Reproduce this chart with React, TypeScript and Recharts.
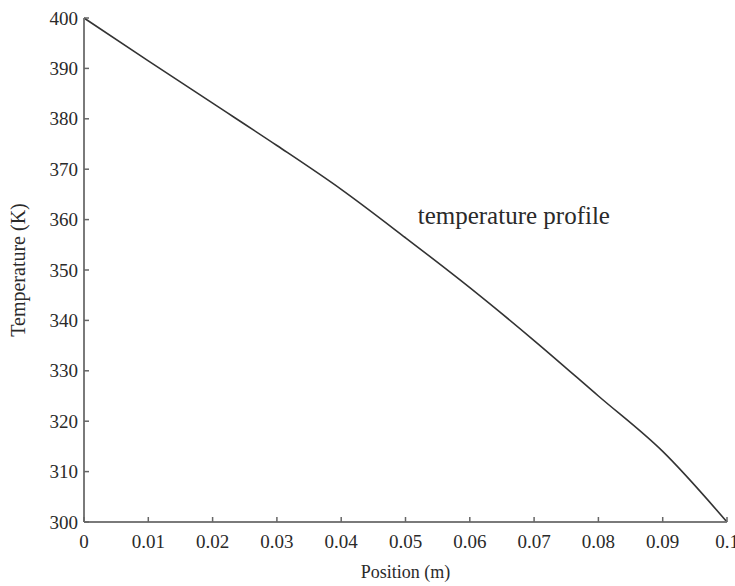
import React from 'react';
import { LineChart, Line, XAxis, YAxis, ReferenceDot } from 'recharts';

const positions = [0, 0.01, 0.02, 0.03, 0.04, 0.05, 0.06, 0.07, 0.08, 0.09, 0.1];
const temperatures = [400, 391.5, 383.1, 374.7, 366.0, 356.4, 346.5, 336.0, 325.0, 314.0, 300];

const xTicks = [0, 0.01, 0.02, 0.03, 0.04, 0.05, 0.06, 0.07, 0.08, 0.09, 0.1];
const xTickLabels = ['0', '0.01', '0.02', '0.03', '0.04', '0.05', '0.06', '0.07', '0.08', '0.09', '0.1'];
const yTicks = [300, 310, 320, 330, 340, 350, 360, 370, 380, 390, 400];
const yTickLabels = ['300', '310', '320', '330', '340', '350', '360', '370', '380', '390', '400'];

const annotationText = 'temperature profile';
const annotationPos = { x: 0.0519, y: 360.9 };

const data = positions.map((p, i) => ({ x: p, t: temperatures[i] }));

const FONT = '"Liberation Serif", "Times New Roman", serif';
const TEXT = '#2a2a2a';
const AXIS = '#7a7a7a';
const TICK = '#666';
const TLEN = 5;

const BOTTOM_MARGIN = 13;
const LEFT_MARGIN = 6;

const BottomTick = (props: any) => {
  const { x, y, index } = props;
  const base = y - BOTTOM_MARGIN;
  return (
    <g>
      <line x1={x} x2={x} y1={base} y2={base - TLEN} stroke={TICK} strokeWidth={1.5} />
      <text x={x} y={y} dy="0.71em" textAnchor="middle" fill={TEXT} style={{ fontFamily: FONT, fontSize: 19 }}>
        {xTickLabels[index]}
      </text>
    </g>
  );
};

const LeftTick = (props: any) => {
  const { x, y, index } = props;
  const base = x + LEFT_MARGIN;
  return (
    <g>
      <line x1={base} x2={base + TLEN} y1={y} y2={y} stroke={TICK} strokeWidth={1.5} />
      <text x={x} y={y} dy="0.35em" textAnchor="end" fill={TEXT} style={{ fontFamily: FONT, fontSize: 19 }}>
        {yTickLabels[index]}
      </text>
    </g>
  );
};

const TopTick = (props: any) => {
  const { x, y } = props;
  return <line x1={x} x2={x} y1={y} y2={y + TLEN} stroke={TICK} strokeWidth={1.5} />;
};

const RightTick = (props: any) => {
  const { x, y } = props;
  return <line x1={x} x2={x - TLEN} y1={y} y2={y} stroke={TICK} strokeWidth={1.5} />;
};

const YLabel = (props: any) => {
  const vb = props.viewBox || { x: 0, y: 0, width: 84, height: 504 };
  const cx = vb.x + 18;
  const cy = vb.y + vb.height / 2;
  return (
    <text
      transform={`translate(${cx},${cy}) rotate(-90)`}
      textAnchor="middle"
      dy="0.35em"
      fill={TEXT}
      style={{ fontFamily: FONT, fontSize: 20 }}
    >
      Temperature (K)
    </text>
  );
};

export default function App() {
  return (
    <div style={{ position: 'absolute', left: 0, top: 0, width: 735, height: 586, background: '#fff' }}>
      <LineChart width={735} height={586} data={data} margin={{ top: 18, right: 8, bottom: 0, left: 0 }}>
        <XAxis
          dataKey="x"
          type="number"
          domain={[0, 0.1]}
          ticks={xTicks}
          interval={0}
          height={64}
          tickSize={0}
          tickMargin={BOTTOM_MARGIN}
          tick={<BottomTick />}
          axisLine={{ stroke: AXIS, strokeWidth: 2 }}
          label={{
            value: 'Position (m)',
            position: 'insideBottom',
            offset: 8,
            fill: TEXT,
            fontFamily: FONT,
            fontSize: 18,
          }}
        />
        <XAxis
          xAxisId="top"
          orientation="top"
          dataKey="x"
          type="number"
          domain={[0, 0.1]}
          ticks={xTicks}
          interval={0}
          height={0}
          tickSize={0}
          tickMargin={0}
          tick={<TopTick />}
          axisLine={{ stroke: AXIS, strokeWidth: 2 }}
        />
        <YAxis
          type="number"
          domain={[300, 400]}
          ticks={yTicks}
          interval={0}
          width={84}
          tickSize={0}
          tickMargin={LEFT_MARGIN}
          tick={<LeftTick />}
          axisLine={{ stroke: AXIS, strokeWidth: 2 }}
          label={{ content: <YLabel /> }}
        />
        <YAxis
          yAxisId="right"
          orientation="right"
          type="number"
          domain={[300, 400]}
          ticks={yTicks}
          interval={0}
          width={0}
          tickSize={0}
          tickMargin={0}
          tick={<RightTick />}
          axisLine={{ stroke: AXIS, strokeWidth: 2 }}
        />
        <Line
          type="monotone"
          dataKey="t"
          stroke="#333"
          strokeWidth={1.6}
          dot={false}
          isAnimationActive={false}
        />
        <ReferenceDot
          x={annotationPos.x}
          y={annotationPos.y}
          r={0}
          fill="none"
          stroke="none"
          label={{
            value: annotationText,
            position: 'right',
            offset: 0,
            fill: TEXT,
            fontFamily: FONT,
            fontSize: 25,
          }}
        />
      </LineChart>
    </div>
  );
}
